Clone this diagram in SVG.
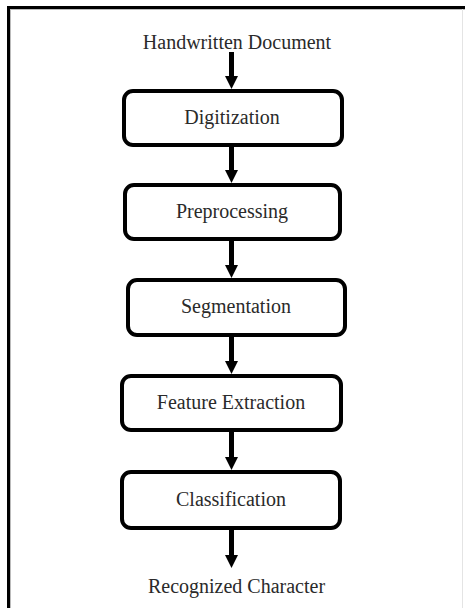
<svg xmlns="http://www.w3.org/2000/svg" width="465" height="608" viewBox="0 0 465 608">
<style>
.box{fill:#fff;stroke:#000;stroke-width:4}
.lbl{font-family:"Liberation Serif","Times New Roman",serif;font-size:20px;fill:#2a2a2a;text-anchor:middle}
.arr{stroke:#000;stroke-width:5;fill:none;marker-end:url(#ah)}
</style>
<defs>
<marker id="ah" markerUnits="userSpaceOnUse" markerWidth="14" markerHeight="14" refX="0" refY="6.5" orient="auto" viewBox="0 0 14 14">
<path d="M0,0 L13,6.5 L0,13 z" fill="#000"/>
</marker>
</defs>
<rect width="465" height="608" fill="#fff"/>
<g id="frame">
<rect x="7" y="6" width="458" height="3" fill="#000"/>
<rect x="7" y="6" width="3" height="602" fill="#000"/>
<rect x="10" y="9" width="1" height="599" fill="#bbb"/>
<rect x="10" y="9" width="455" height="1" fill="#bbb"/>
<rect x="462" y="9" width="1" height="599" fill="#e4e4e4"/>
</g>
<g id="start"><text class="lbl" x="237" y="49">Handwritten Document</text></g>
<g id="digitization"><rect class="box" x="124" y="91" width="218" height="54" rx="9"/><text class="lbl" x="232" y="124">Digitization</text></g>
<g id="preprocessing"><rect class="box" x="125" y="185" width="215" height="54" rx="9"/><text class="lbl" x="232" y="218">Preprocessing</text></g>
<g id="segmentation"><rect class="box" x="128" y="280" width="217" height="55" rx="9"/><text class="lbl" x="236" y="313">Segmentation</text></g>
<g id="feature"><rect class="box" x="122" y="376" width="219" height="54" rx="9"/><text class="lbl" x="231" y="409">Feature Extraction</text></g>
<g id="classification"><rect class="box" x="122" y="472" width="218" height="56" rx="9"/><text class="lbl" x="231" y="506">Classification</text></g>
<g id="end"><text class="lbl" x="236.5" y="593">Recognized Character</text></g>
<g id="connectors">
<line class="arr" x1="231.5" y1="52" x2="231.5" y2="76"/>
<line class="arr" x1="231.5" y1="147" x2="231.5" y2="170"/>
<line class="arr" x1="231.5" y1="241" x2="231.5" y2="265"/>
<line class="arr" x1="231.5" y1="337" x2="231.5" y2="361"/>
<line class="arr" x1="231.5" y1="432" x2="231.5" y2="457"/>
<line class="arr" x1="231.5" y1="530" x2="231.5" y2="555"/>
</g>
</svg>
